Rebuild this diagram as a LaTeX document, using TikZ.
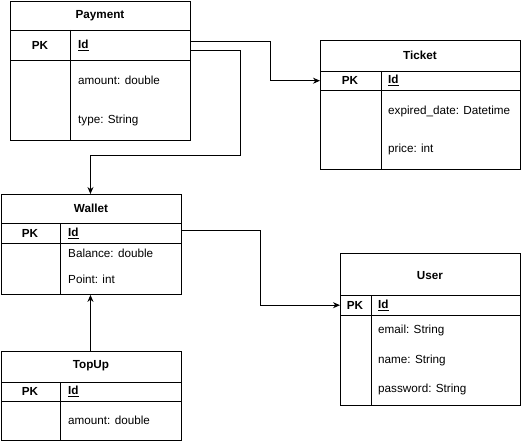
\documentclass[tikz,border=0pt]{standalone}
\usepackage{fontspec}
\setmainfont{Liberation Sans}
\usetikzlibrary{arrows.meta,calc}
\begin{document}
\begin{tikzpicture}[x=1pt,y=-1pt,
  tbl/.style={draw,line width=0.9pt,inner sep=0pt,anchor=north west},
  rowbox/.style={inner sep=0pt,anchor=north west},
  sep/.style={line width=0.9pt},
  txt/.style={font=\fontsize{11.7}{13}\selectfont,inner sep=0pt},
  head/.style={txt,font=\fontsize{11.7}{13}\selectfont\bfseries},
  fld/.style={txt,anchor=west},
  idf/.style={txt,anchor=west,font=\fontsize{11.7}{13}\selectfont\bfseries},
  conn/.style={line width=0.9pt,-{Stealth[length=7pt,width=6pt]}}]
\useasboundingbox (0,0) rectangle (522,441);
\fill[white] (0,0) rectangle (522,441);

% Payment
\node[tbl,minimum width=180pt,minimum height=139pt] (pay) at (10,1) {};
\node[rowbox,minimum width=180pt,minimum height=30pt] (payrow) at (10,30) {};
\draw[sep] (10,30) -- (190,30);
\draw[sep] (10,60) -- (190,60);
\draw[sep] (70,30) -- (70,140);
\node[head] (payh) at (100,15.5) {Payment};
\node[head] (paypk) at (40,45.5) {PK};
\node[idf] (payid) at (78,45.5) {\underline{Id}};
\node[fld] (payf1) at (78,80.5) {amount: double};
\node[fld] (payf2) at (78,120.5) {type: String};

% Ticket
\node[tbl,minimum width=200pt,minimum height=129pt] (tk) at (320,40) {};
\node[rowbox,minimum width=200pt,minimum height=19pt] (tkrow) at (320,71) {};
\draw[sep] (320,71) -- (520,71);
\draw[sep] (320,90) -- (520,90);
\draw[sep] (381,71) -- (381,169);
\node[head] (tkh) at (420,55.5) {Ticket};
\node[head] (tkpk) at (350,80.5) {PK};
\node[idf] (tkid) at (388,80.5) {\underline{Id}};
\node[fld] (tkf1) at (388,111.5) {expired\_date: Datetime};
\node[fld] (tkf2) at (388,149.5) {price: int};

% Wallet
\node[tbl,minimum width=180pt,minimum height=100pt] (wal) at (1,194) {};
\node[rowbox,minimum width=180pt,minimum height=20pt] (walrow) at (1,223) {};
\draw[sep] (1,223) -- (181,223);
\draw[sep] (1,243) -- (181,243);
\draw[sep] (60,223) -- (60,294);
\node[head] (walh) at (91,208.5) {Wallet};
\node[head] (walpk) at (30,233.5) {PK};
\node[idf] (walid) at (68,233.5) {\underline{Id}};
\node[fld] (walf1) at (68,253.5) {Balance: double};
\node[fld] (walf2) at (68,279.5) {Point: int};

% TopUp
\node[tbl,minimum width=180pt,minimum height=89pt] (top) at (1,351) {};
\draw[sep] (1,382) -- (181,382);
\draw[sep] (1,401) -- (181,401);
\draw[sep] (60,382) -- (60,440);
\node[head] (toph) at (91,365.5) {TopUp};
\node[head] (toppk) at (30,391.5) {PK};
\node[idf] (topid) at (68,391.5) {\underline{Id}};
\node[fld] (topf1) at (68,420.5) {amount: double};

% User
\node[tbl,minimum width=180pt,minimum height=152pt] (us) at (340,253) {};
\node[rowbox,minimum width=180pt,minimum height=20pt] (usrow) at (340,295) {};
\draw[sep] (340,295) -- (520,295);
\draw[sep] (340,315) -- (520,315);
\draw[sep] (371,295) -- (371,405);
\node[head] (ush) at (430,275.5) {User};
\node[head] (uspk) at (355,305.5) {PK};
\node[idf] (usid) at (378,305.5) {\underline{Id}};
\node[fld] (usf1) at (378,330.5) {email: String};
\node[fld] (usf2) at (378,360.5) {name: String};
\node[fld] (usf3) at (378,389.5) {password: String};

% connectors
\draw[conn] ([yshift=4pt]payrow.east) -- ++(80,0) |- (tkrow.west);
\draw[conn] ([yshift=-5pt]payrow.east) -- ++(50,0) -- ++(0,105) -| ([xshift=-1pt]wal.north);
\draw[conn] ([yshift=3pt]walrow.east) -- ++(79,0) |- (usrow.west);
\draw[conn] ([xshift=-1pt]top.north) -- ([xshift=-1pt]wal.south);
\end{tikzpicture}
\end{document}
